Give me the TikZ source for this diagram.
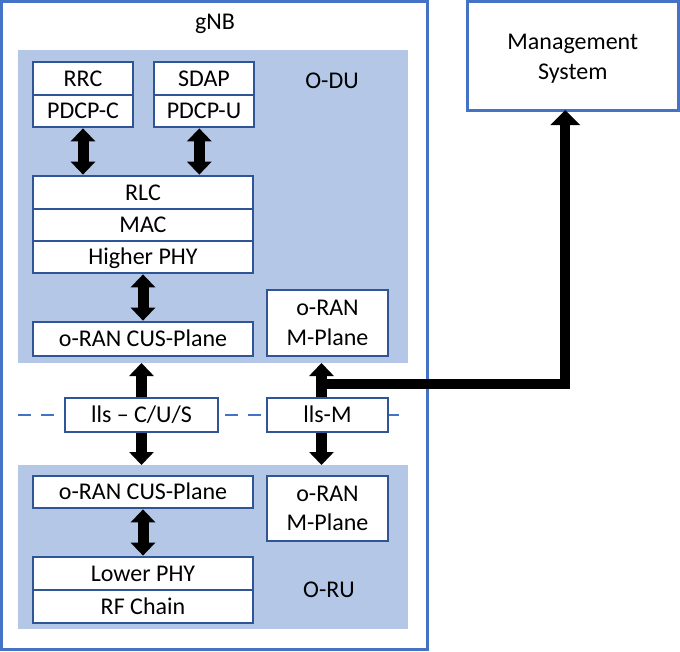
\documentclass[tikz,border=0pt]{standalone}
\usepackage{fontspec}
\setmainfont{Carlito}
\usetikzlibrary{arrows.meta}
\definecolor{outerblue}{HTML}{4472C4}
\definecolor{boxblue}{HTML}{2F5597}
\definecolor{regionblue}{HTML}{B4C7E7}
\begin{document}
\begin{tikzpicture}[x=1pt,y=-1pt,
  every node/.style={font=\fontsize{24}{29.5}\selectfont, inner sep=0pt},
  lyr/.style={draw=boxblue, line width=2.75pt, fill=white, text height=20pt, text depth=4.6pt},
  lyrml/.style={draw=boxblue, line width=2.75pt, fill=white, align=center},
  region/.style={fill=regionblue, draw=none, outer sep=0pt},
  dblarrow/.style={line width=11pt, {Triangle[width=24pt,length=13pt]}-{Triangle[width=24pt,length=13pt]}},
  onearrow/.style={line width=11pt, -{Triangle[width=24pt,length=13pt]}},
  mgmtarrow/.style={line width=10pt, line join=miter, -{Triangle[width=29pt,length=15pt]}}
]
\useasboundingbox (0,0) rectangle (680,651);
% outer boxes
\node[draw=outerblue, line width=3pt, minimum width=425.5pt, minimum height=648pt, outer sep=0pt] (gnb) at (214.25,325.5) {};
\node[draw=outerblue, line width=3pt, minimum width=211.5pt, minimum height=108.5pt, outer sep=0pt] (mgmt) at (572.75,55.75) {};
\node[align=center] (mgmtlabel) at (572.75,58.5) {Management\\System};
\node (gnblabel) at (215,24) {gNB};
% regions
\node[region, minimum width=390pt, minimum height=313pt] (odu) at (213,206.5) {};
\node[region, minimum width=390pt, minimum height=164pt] (oru) at (213,547) {};
\node (odulabel) at (332,81) {O-DU};
\node (orulabel) at (329,590) {O-RU};
% dashed split line
\coordinate (dashL) at (18,415);
\coordinate (dashR) at (408,415);
\draw[outerblue, line width=2.5pt, dash pattern=on 13pt off 10pt] (dashL) -- (dashR);
% O-DU boxes
\node[lyr, minimum width=100pt, minimum height=33pt] (rrc) at (83,78.5) {RRC};
\node[lyr, minimum width=100pt, minimum height=32pt] (pdcpc) at (83,111) {PDCP-C};
\node[lyr, minimum width=100pt, minimum height=33pt] (sdap) at (204,78.5) {SDAP};
\node[lyr, minimum width=100pt, minimum height=32pt] (pdcpu) at (204,111) {PDCP-U};
\node[lyr, minimum width=220pt, minimum height=33pt] (rlc) at (143,192.5) {RLC};
\node[lyr, minimum width=220pt, minimum height=32pt] (mac) at (143,225) {MAC};
\node[lyr, minimum width=220pt, minimum height=32pt] (hphy) at (143,257) {Higher PHY};
\node[lyr, minimum width=220pt, minimum height=34pt] (cusdu) at (143,339) {o-RAN CUS-Plane};
\node[lyrml, minimum width=121pt, minimum height=66pt] (mpdu) at (327.5,323) {o-RAN\\M-Plane};
% interface boxes
\node[lyr, minimum width=153pt, minimum height=34pt] (llscus) at (141.5,415) {lls – C/U/S};
\node[lyr, minimum width=121pt, minimum height=34pt] (llsm) at (327.5,415) {lls-M};
% O-RU boxes
\node[lyr, minimum width=220pt, minimum height=32pt] (cusru) at (143,492) {o-RAN CUS-Plane};
\node[lyrml, minimum width=121pt, minimum height=65pt] (mpru) at (327.5,508.5) {o-RAN\\M-Plane};
\node[lyr, minimum width=220pt, minimum height=33pt] (lphy) at (143,573.5) {Lower PHY};
\node[lyr, minimum width=220pt, minimum height=33pt] (rfc) at (143,606.5) {RF Chain};
% arrows
\draw[dblarrow] (pdcpc.south) -- (pdcpc.south |- rlc.north);
\draw[dblarrow] ([xshift=-4.7pt]pdcpu.south) -- ([xshift=-4.7pt]pdcpu.south |- rlc.north);
\draw[dblarrow] (hphy.south) -- (cusdu.north);
\draw[onearrow] (llscus.north) -- (llscus.north |- odu.south);
\draw[onearrow] (llscus.south) -- (llscus.south |- oru.north);
\coordinate (mtop) at ([xshift=-6pt]llsm.north);
\coordinate (mbot) at ([xshift=-6pt]llsm.south);
\draw[onearrow] (mtop) -- (mtop |- odu.south);
\draw[onearrow] (mbot) -- (mbot |- oru.north);
\coordinate (junction) at ([yshift=13pt]mtop);
\draw[mgmtarrow] (junction) -| ([xshift=-7.5pt]mgmt.south);
\draw[dblarrow] (cusru.south) -- (lphy.north);
\end{tikzpicture}
\end{document}
